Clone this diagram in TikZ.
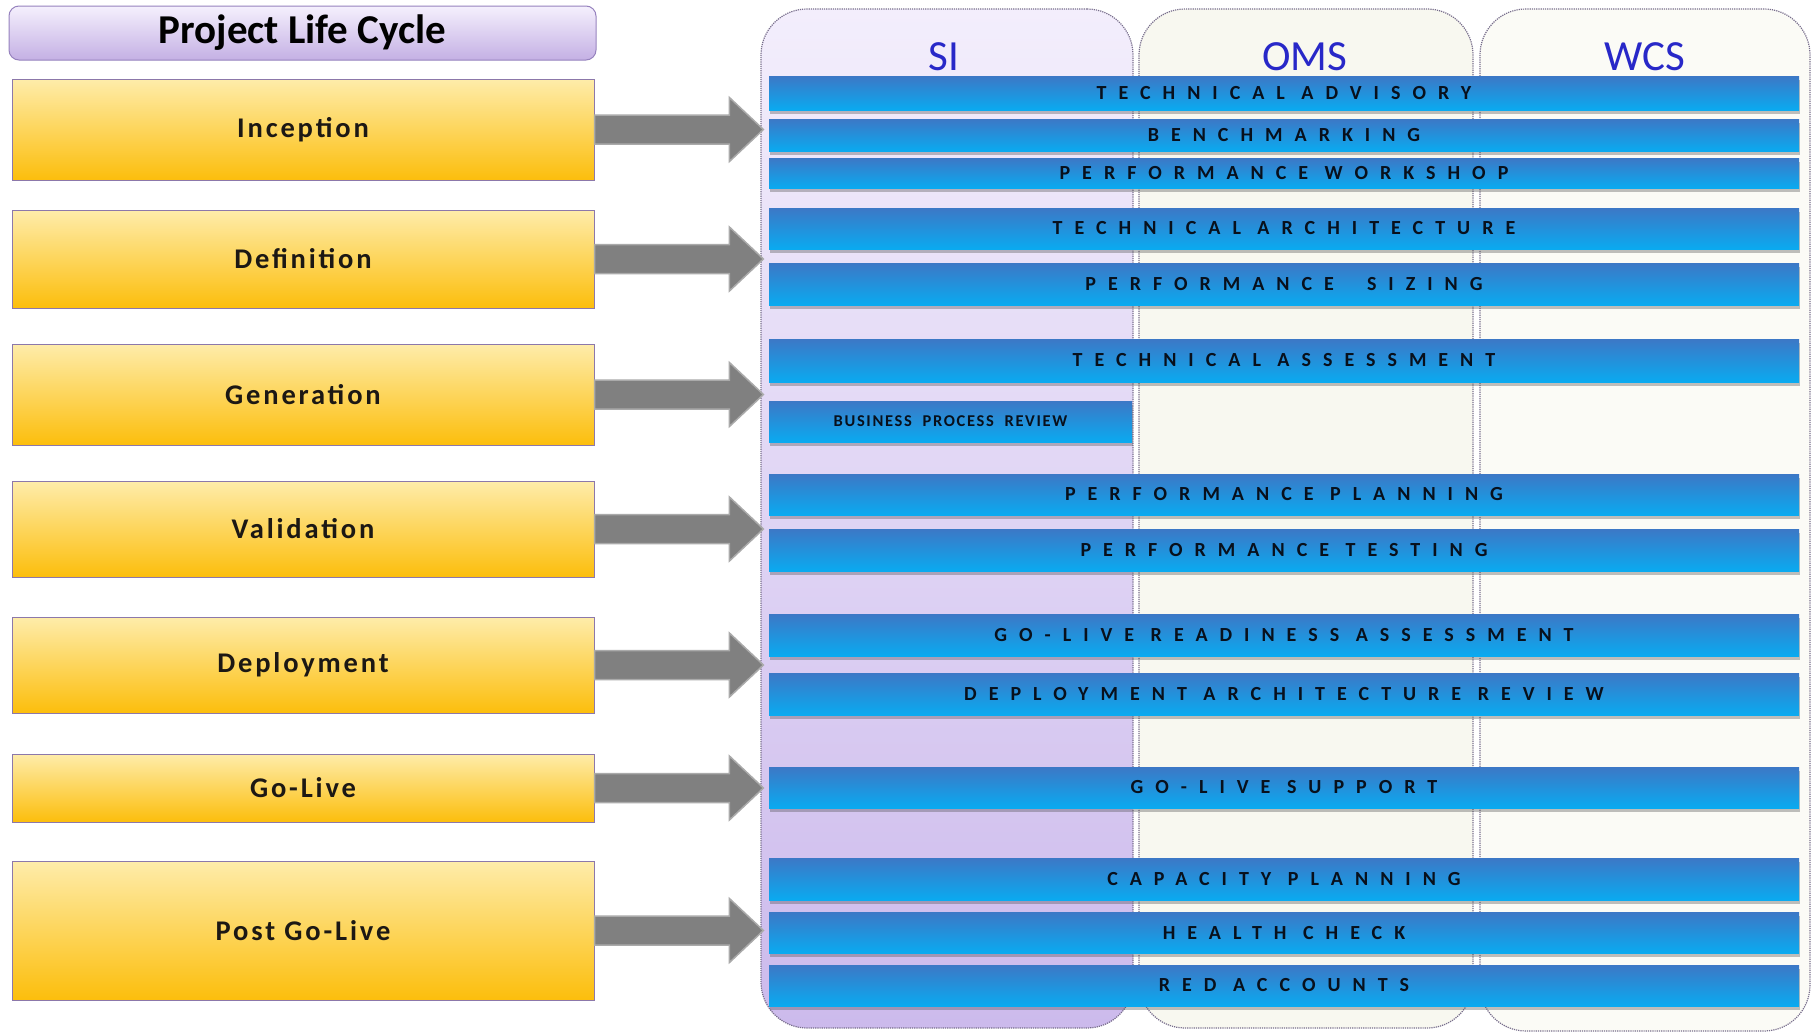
\documentclass[tikz,border=0pt]{standalone}
\usepackage{fontspec}
\setmainfont{Carlito}
\newfontfamily\spacedfont{Carlito}[LetterSpace=60]
\newfontfamily\smallspacedfont{Carlito}[LetterSpace=10]
\newfontfamily\phasefont{Carlito}[LetterSpace=10]
\usetikzlibrary{shadows,calc}

\definecolor{phaseTop}{RGB}{254,236,170}
\definecolor{phaseBot}{RGB}{252,190,12}
\definecolor{phaseEdge}{RGB}{140,120,170}
\definecolor{titleTop}{RGB}{245,240,253}
\definecolor{titleBot}{RGB}{196,176,228}
\definecolor{titleEdge}{RGB}{150,130,190}
\definecolor{siTop}{RGB}{243,238,252}
\definecolor{siBot}{RGB}{204,186,236}
\definecolor{omsFill}{RGB}{248,248,240}
\definecolor{wcsFill}{RGB}{251,251,246}
\definecolor{colEdge}{RGB}{120,110,140}
\definecolor{barTop}{RGB}{60,120,198}
\definecolor{barMid}{RGB}{44,140,214}
\definecolor{barBot}{RGB}{10,170,240}
\definecolor{barText}{RGB}{8,16,28}
\definecolor{headBlue}{RGB}{40,40,200}
\definecolor{arrowGrey}{RGB}{128,128,128}
\definecolor{arrowEdge}{RGB}{170,170,170}
\definecolor{textDark}{RGB}{28,24,20}

% thick grey arrow from a phase box to the left edge of a column
\newcommand\phasearrow[2]{%
  \filldraw[arrowGrey, draw=arrowEdge, line width=1.5pt, line join=miter]
    let \p1=(#1.east), \p2=(#1.east -| #2.west) in
    (\x1,\y1+14.5pt) -- (\x2-31pt,\y1+14.5pt) -- (\x2-31pt,\y1+32pt)
    -- (\x2+3pt,\y1) -- (\x2-31pt,\y1-32pt) -- (\x2-31pt,\y1-14.5pt)
    -- (\x1,\y1-14.5pt) -- cycle;}

\begin{document}
\begin{tikzpicture}[x=1pt,y=-1pt,
  colbox/.style={draw=colEdge, densely dotted, line width=1.2pt,
    rounded corners=46pt, inner sep=0pt},
  head/.style={text=headBlue, font={\fontsize{43}{50}\selectfont}, anchor=base, inner sep=0pt},
  bar/.style={inner sep=0pt, minimum width=1030, top color=barTop, middle color=barMid,
    bottom color=barBot, text=barText,
    drop shadow={shadow xshift=1pt, shadow yshift=-4pt, opacity=0.35, fill=black!70},
    font={\spacedfont\bfseries\fontsize{20}{24}\selectfont}},
  phase/.style={draw=phaseEdge, line width=1pt, top color=phaseTop, bottom color=phaseBot,
    inner sep=0pt, minimum width=582, text=textDark,
    font={\phasefont\bfseries\fontsize{28.5}{34}\selectfont}},
  titlebox/.style={draw=titleEdge, line width=1pt, rounded corners=10pt,
    top color=titleTop, bottom color=titleBot, inner sep=0pt, text=black,
    font={\bfseries\fontsize{41}{46}\selectfont}}
]
\useasboundingbox (0,0) rectangle (1816,1034);
\fill[white] (0,0) rectangle (1816,1034);

% system columns
\node[colbox, top color=siTop, bottom color=siBot, minimum width=372, minimum height=1019] (si) at (947,518.5) {};
\node[colbox, fill=omsFill, minimum width=334, minimum height=1019] (oms) at (1306,518.5) {};
\node[colbox, fill=wcsFill, minimum width=330, minimum height=1022] (wcs) at (1645,520) {};

\node[head] (sihead) at (944,70) {SI};
\node[head] (omshead) at (1305,70) {OMS};
\node[head] (wcshead) at (1645,70) {WCS};

% service bars
\node[bar, minimum height=34] (b1) at (1284,93) {TECHNICAL ADVISORY};
\node[bar, minimum height=32] (b2) at (1284,135) {BENCHMARKING};
\node[bar, minimum height=30] (b3) at (1284,173) {PERFORMANCE WORKSHOP};
\node[bar, minimum height=41] (b4) at (1284,228.5) {TECHNICAL ARCHITECTURE};
\node[bar, minimum height=42] (b5) at (1284,284) {PERFORMANCE \ SIZING};
\node[bar, minimum height=43] (b6) at (1284,360.5) {TECHNICAL ASSESSMENT};
\node[bar, minimum width=363, minimum height=41,
  font={\smallspacedfont\bfseries\fontsize{16.5}{20}\selectfont}] (b7) at (950.5,421.5) {BUSINESS\ \ PROCESS\ \ REVIEW};
\node[bar, minimum height=41] (b8) at (1284,494.5) {PERFORMANCE PLANNING};
\node[bar, minimum height=42] (b9) at (1284,550) {PERFORMANCE TESTING};
\node[bar, minimum height=42] (b10) at (1284,635) {GO-LIVE READINESS ASSESSMENT};
\node[bar, minimum height=42] (b11) at (1284,694) {DEPLOYMENT ARCHITECTURE REVIEW};
\node[bar, minimum height=41] (b12) at (1284,787.5) {GO-LIVE SUPPORT};
\node[bar, minimum height=42] (b13) at (1284,879) {CAPACITY PLANNING};
\node[bar, minimum height=41] (b14) at (1284,932.5) {HEALTH CHECK};
\node[bar, minimum height=41] (b15) at (1284,985.5) {RED ACCOUNTS};

% life cycle column
\node[titlebox, minimum width=587, minimum height=54] (title) at (302.5,33) {Project Life Cycle};
\node[phase, minimum height=101] (inc) at (303,129.5) {Inception};
\node[phase, minimum height=98]  (def) at (303,259) {Definition};
\node[phase, minimum height=101] (gen) at (303,394.5) {Generation};
\node[phase, minimum height=96]  (val) at (303,529) {Validation};
\node[phase, minimum height=96]  (dep) at (303,665) {Deployment};
\node[phase, minimum height=68]  (gol) at (303,788) {Go-Live};
\node[phase, minimum height=139] (pgl) at (303,930.5) {Post Go-Live};

% phase arrows
\phasearrow{inc}{si}
\phasearrow{def}{si}
\phasearrow{gen}{si}
\phasearrow{val}{si}
\phasearrow{dep}{si}
\phasearrow{gol}{si}
\phasearrow{pgl}{si}
\end{tikzpicture}
\end{document}
